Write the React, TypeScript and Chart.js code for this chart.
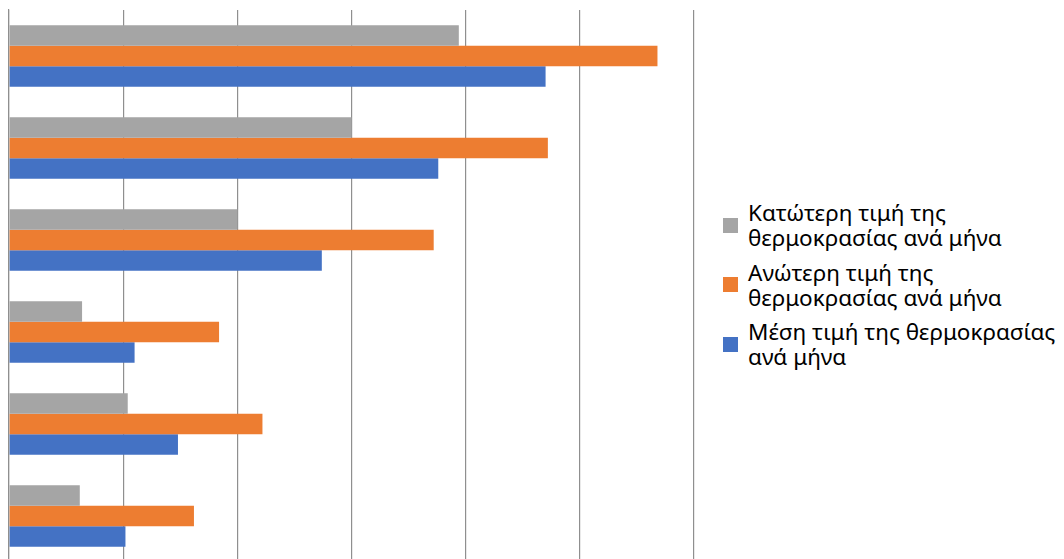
import React, { useEffect, useRef } from "react";
import { Chart, registerables } from "chart.js";

Chart.register(...registerables);

// Categories listed top to bottom (category labels are not shown in the picture)
const categories = ["1", "2", "3", "4", "5", "6"];

const seriesNames = [
  "Κατώτερη τιμή της θερμοκρασίας ανά μήνα",
  "Ανώτερη τιμή της θερμοκρασίας ανά μήνα",
  "Μέση τιμή της θερμοκρασίας ανά μήνα",
];

const legendLines = [
  ["Κατώτερη τιμή της", "θερμοκρασίας ανά μήνα"],
  ["Ανώτερη τιμή της", "θερμοκρασίας ανά μήνα"],
  ["Μέση τιμή της θερμοκρασίας", "ανά μήνα"],
];

const lowValues = [19.7, 15.0, 10.0, 3.2, 5.2, 3.1];
const highValues = [28.4, 23.6, 18.6, 9.2, 11.1, 8.1];
const meanValues = [23.5, 18.8, 13.7, 5.5, 7.4, 5.1];

const colors = ["#A5A5A5", "#ED7D31", "#4472C4"];

const axisMin = 0;
const axisMax = 30;
const axisStep = 5;

export default function App() {
  const ref = useRef<HTMLCanvasElement | null>(null);

  useEffect(() => {
    if (!ref.current) return;
    const chart = new Chart(ref.current, {
      type: "bar",
      data: {
        labels: categories,
        datasets: [
          { label: seriesNames[0], data: lowValues, backgroundColor: colors[0] },
          { label: seriesNames[1], data: highValues, backgroundColor: colors[1] },
          { label: seriesNames[2], data: meanValues, backgroundColor: colors[2] },
        ],
      },
      options: {
        indexAxis: "y",
        animation: false,
        responsive: true,
        maintainAspectRatio: false,
        layout: { padding: { left: 9, top: 10, right: 6, bottom: 0 } },
        datasets: {
          bar: { categoryPercentage: 0.667, barPercentage: 1.0, borderWidth: 0 },
        },
        plugins: {
          legend: { display: false },
          tooltip: { enabled: false },
        },
        scales: {
          x: {
            min: axisMin,
            max: axisMax,
            ticks: { display: false, stepSize: axisStep },
            grid: { color: "#8f8f8f", lineWidth: 1.2, drawTicks: false },
            border: { display: false },
          },
          y: {
            ticks: { display: false },
            grid: { display: false, drawTicks: false },
            border: { display: true, color: "#8f8f8f", width: 1.2 },
          },
        },
      },
    });
    return () => chart.destroy();
  }, []);

  return (
    <div style={{ position: "fixed", inset: 0, overflow: "hidden", background: "#fff" }}>
      <div style={{ position: "absolute", left: 0, top: 0, width: 700, height: 562 }}>
        <canvas ref={ref} />
      </div>
      <div
        style={{
          position: "absolute",
          left: 723,
          top: 200,
          fontFamily: "'Noto Sans', sans-serif",
          fontSize: 22.5,
          lineHeight: "25px",
          color: "#000",
          whiteSpace: "nowrap",
        }}
      >
        {legendLines.map((lines, i) => (
          <div
            key={i}
            style={{ display: "flex", alignItems: "center", height: 50, marginBottom: 9.6 }}
          >
            <div style={{ width: 15, height: 15, background: colors[i], marginRight: 10, flex: "none" }} />
            <div>
              {lines.map((l, j) => (
                <div key={j}>{l}</div>
              ))}
            </div>
          </div>
        ))}
      </div>
    </div>
  );
}
